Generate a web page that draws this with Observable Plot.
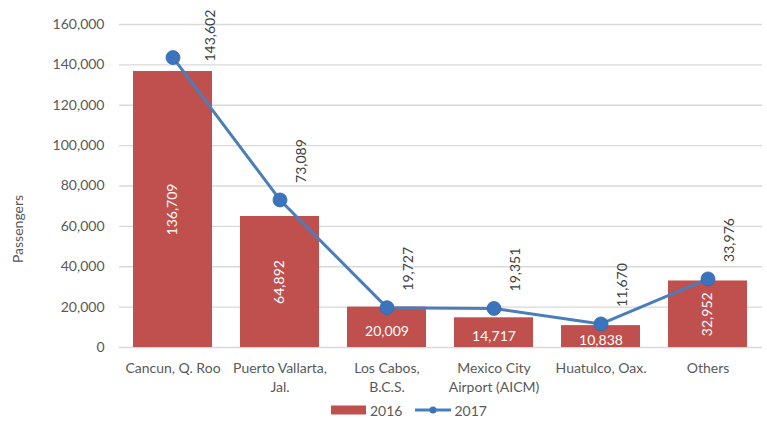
<!DOCTYPE html>
<html>
<head>
<meta charset="utf-8">
<script src="https://cdn.jsdelivr.net/npm/d3@7"></script>
<script src="https://cdn.jsdelivr.net/npm/@observablehq/plot@0.6"></script>
<style>
  html, body { margin: 0; padding: 0; background: #fff; }
  body { width: 767px; height: 423px; overflow: hidden; font-family: Lato, sans-serif; }
  #chart svg { display: block; }
  .legend { display: flex; align-items: center; height: 26px; margin-left: 331px; font-size: 14px; color: #595959; }
  .legend .item { display: flex; align-items: center; }
  .legend svg { display: block; }
</style>
</head>
<body>
<div id="chart"></div>
<div class="legend">
  <span class="item"><svg width="37" height="12"><rect x="0" y="1.5" width="35" height="9" fill="#C0504D"></rect></svg><span style="margin-left:2px">2016</span></span>
  <span class="item" style="margin-left:12px"><svg width="40" height="12"><line x1="1" y1="6" x2="37" y2="6" stroke="#4A7EBB" stroke-width="3"></line><circle cx="19" cy="6" r="3.5" fill="#3b73bd"></circle></svg><span style="margin-left:0px">2017</span></span>
</div>
<script>
const categories = ["Cancun, Q. Roo", "Puerto Vallarta, Jal.", "Los Cabos, B.C.S.", "Mexico City Airport (AICM)", "Huatulco, Oax.", "Others"];
const tickLabels = ["Cancun, Q. Roo", "Puerto Vallarta,\nJal.", "Los Cabos,\nB.C.S.", "Mexico City\nAirport (AICM)", "Huatulco, Oax.", "Others"];
const values2016 = [136709, 64892, 20009, 14717, 10838, 32952];
const values2017 = [143602, 73089, 19727, 19351, 11670, 33976];
const yTicks = [0, 20000, 40000, 60000, 80000, 100000, 120000, 140000, 160000];
const yLabel = "Passengers";

const rows = categories.map((c, i) => ({cat: c, v2016: values2016[i], v2017: values2017[i]}));
const fmt = d3.format(",");
const labelOf = new Map(categories.map((c, i) => [c, tickLabels[i]]));
const nearTop = d => d.v2017 > 140000;

const chart = Plot.plot({
  width: 767,
  height: 397,
  marginLeft: 119,
  marginRight: 5,
  marginTop: 24,
  marginBottom: 50,
  style: {fontFamily: "Lato, sans-serif", fontSize: "14px", color: "#595959", background: "#fff"},
  x: {domain: categories, paddingInner: 0.26, paddingOuter: 0.13, label: null},
  y: {domain: [0, 160000], label: null},
  marks: [
    Plot.gridY(yTicks, {stroke: "#d9d9d9", strokeOpacity: 1, strokeWidth: 1.3}),
    Plot.axisY(yTicks, {tickSize: 0, tickPadding: 15, tickFormat: fmt, fontSize: 14, fill: "#595959", label: null}),
    Plot.axisX({tickSize: 0, tickPadding: 13, tickFormat: d => labelOf.get(d), fontSize: 14, fill: "#595959", lineHeight: 1.3, label: null}),
    Plot.text([yLabel], {frameAnchor: "left", textAnchor: "middle", dx: -101, dy: 43, rotate: -90, fontSize: 14, fill: "#595959"}),
    Plot.barY(rows, {x: "cat", y: "v2016", fill: "#C0504D"}),
    Plot.text(rows.filter(d => d.v2016 >= 25000), {x: "cat", y: d => d.v2016 / 2, text: d => fmt(d.v2016), rotate: -90, fill: "white", fontSize: 14}),
    Plot.text(rows.filter(d => d.v2016 < 25000), {x: "cat", y: d => d.v2016 / 2, text: d => fmt(d.v2016), dy: 4, fill: "white", fontSize: 14}),
    Plot.line(rows, {x: "cat", y: "v2017", stroke: "#4A7EBB", strokeWidth: 3}),
    Plot.dot(rows, {x: "cat", y: "v2017", r: 7, fill: "#3b73bd", stroke: "#3568ab", strokeWidth: 0.8}),
    Plot.text(rows.filter(d => !nearTop(d)), {x: "cat", y: "v2017", text: d => fmt(d.v2017), rotate: -90, textAnchor: "start", lineAnchor: "middle", dx: 22, dy: -17, fill: "#404040", fontSize: 14}),
    Plot.text(rows.filter(nearTop), {x: "cat", y: "v2017", text: d => fmt(d.v2017), rotate: -90, textAnchor: "start", lineAnchor: "middle", dx: 38, dy: 4, fill: "#404040", fontSize: 14})
  ]
});
document.getElementById("chart").appendChild(chart);
</script>
</body>
</html>
